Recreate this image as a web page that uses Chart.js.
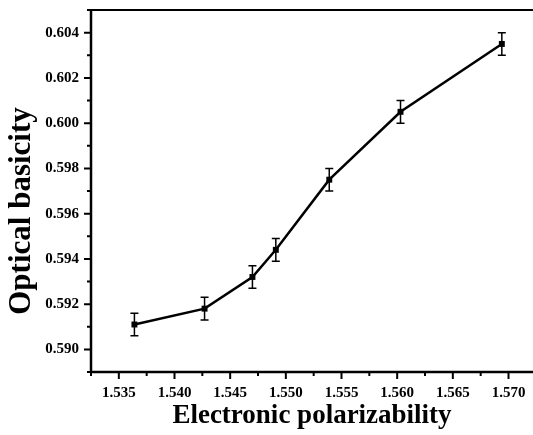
<!DOCTYPE html>
<html>
<head>
<meta charset="utf-8">
<script src="https://cdn.jsdelivr.net/npm/chart.js@4/dist/chart.umd.min.js"></script>
<style>
  html, body { margin:0; padding:0; background:#fff; }
  #wrap { width:533px; height:435px; }
</style>
</head>
<body>
<div id="wrap"><canvas id="chart" width="533" height="435"></canvas></div>
<script>
// data
const polarizability = [1.5364, 1.5427, 1.5470, 1.5491, 1.5539, 1.5603, 1.5694];
const basicity       = [0.5911, 0.5918, 0.5932, 0.5944, 0.5975, 0.6005, 0.6035];
const basicityErr    = [0.0005, 0.0005, 0.0005, 0.0005, 0.0005, 0.0005, 0.0005];

const xTicks = [1.535, 1.540, 1.545, 1.550, 1.555, 1.560, 1.565, 1.570];
const xMinor = [1.5325, 1.5375, 1.5425, 1.5475, 1.5525, 1.5575, 1.5625, 1.5675];
const yTicks = [0.590, 0.592, 0.594, 0.596, 0.598, 0.600, 0.602, 0.604];
const yMinor = [0.589, 0.591, 0.593, 0.595, 0.597, 0.599, 0.601, 0.603, 0.605];

const yTitle = 'Optical basicity';
const FONT = '"Liberation Serif", "Times New Roman", serif';

// frame, tick marks, error bars and the y title
const decor = {
  id:'decor',
  afterDatasetsDraw(chart){
    const {ctx, chartArea:a, scales:{x, y}} = chart;
    ctx.save();
    ctx.strokeStyle = '#000';
    ctx.lineCap = 'butt';

    // error bars
    ctx.lineWidth = 1.5;
    polarizability.forEach((v, i) => {
      const px = x.getPixelForValue(v);
      const hi = y.getPixelForValue(basicity[i] + basicityErr[i]);
      const lo = y.getPixelForValue(basicity[i] - basicityErr[i]);
      ctx.beginPath();
      ctx.moveTo(px, hi); ctx.lineTo(px, lo);
      ctx.moveTo(px - 4, hi); ctx.lineTo(px + 4, hi);
      ctx.moveTo(px - 4, lo); ctx.lineTo(px + 4, lo);
      ctx.stroke();
    });

    // top border
    ctx.lineWidth = 2;
    ctx.beginPath();
    ctx.moveTo(a.left, a.top); ctx.lineTo(a.right, a.top);
    ctx.stroke();

    // axes
    ctx.lineWidth = 2.5;
    ctx.beginPath();
    ctx.moveTo(a.left, a.top - 1); ctx.lineTo(a.left, a.bottom + 1);
    ctx.moveTo(a.left - 1, a.bottom); ctx.lineTo(a.right, a.bottom);
    ctx.stroke();

    // ticks
    ctx.lineWidth = 2;
    ctx.beginPath();
    xTicks.forEach(v => { const p = x.getPixelForValue(v); ctx.moveTo(p, a.bottom); ctx.lineTo(p, a.bottom + 7); });
    xMinor.forEach(v => { const p = x.getPixelForValue(v); ctx.moveTo(p, a.bottom); ctx.lineTo(p, a.bottom + 4); });
    yTicks.forEach(v => { const p = y.getPixelForValue(v); ctx.moveTo(a.left, p); ctx.lineTo(a.left - 7, p); });
    yMinor.forEach(v => { const p = y.getPixelForValue(v); ctx.moveTo(a.left, p); ctx.lineTo(a.left - 4, p); });
    ctx.stroke();

    // y title, sits a little below the middle of the axis
    ctx.translate(22, 211);
    ctx.rotate(-Math.PI / 2);
    ctx.fillStyle = '#000';
    ctx.font = 'bold 31px ' + FONT;
    ctx.textAlign = 'center';
    ctx.textBaseline = 'middle';
    ctx.fillText(yTitle, 0, 0);
    ctx.restore();
  }
};

new Chart(document.getElementById('chart'), {
  type:'line',
  data:{
    datasets:[{
      data: polarizability.map((v, i) => ({x:v, y:basicity[i]})),
      borderColor:'#000',
      borderWidth:2.5,
      backgroundColor:'#000',
      pointStyle:'rect',
      pointRadius:4.2,
      pointBorderWidth:0,
      tension:0
    }]
  },
  options:{
    responsive:false,
    animation:false,
    layout:{ autoPadding:false, padding:{ top:10, right:0, left:0, bottom:0 } },
    plugins:{ legend:{display:false}, tooltip:{enabled:false} },
    scales:{
      x:{
        type:'linear',
        min:1.5325, max:1.5722,
        afterBuildTicks: s => { s.ticks = xTicks.map(v => ({value:v})); },
        afterFit: s => { s.height = 63; s.paddingLeft = 0; s.paddingRight = 0; },
        grid:{ display:false, drawTicks:false },
        border:{ display:false },
        ticks:{ padding:12, color:'#000', font:{family:FONT, size:15, weight:'bold'},
                maxRotation:0, callback: v => v.toFixed(3) },
        title:{ display:true, text:'Electronic polarizability', color:'#000',
                font:{family:FONT, size:27, weight:'bold'}, padding:{top:0, bottom:3} }
      },
      y:{
        min:0.589, max:0.605,
        afterBuildTicks: s => { s.ticks = yTicks.map(v => ({value:v})); },
        afterFit: s => { s.width = 91; s.paddingTop = 0; s.paddingBottom = 0; },
        grid:{ display:false, drawTicks:false },
        border:{ display:false },
        ticks:{ padding:12, color:'#000', font:{family:FONT, size:15, weight:'bold'},
                callback: v => v.toFixed(3) }
      }
    }
  },
  plugins:[decor]
});
</script>
</body>
</html>
